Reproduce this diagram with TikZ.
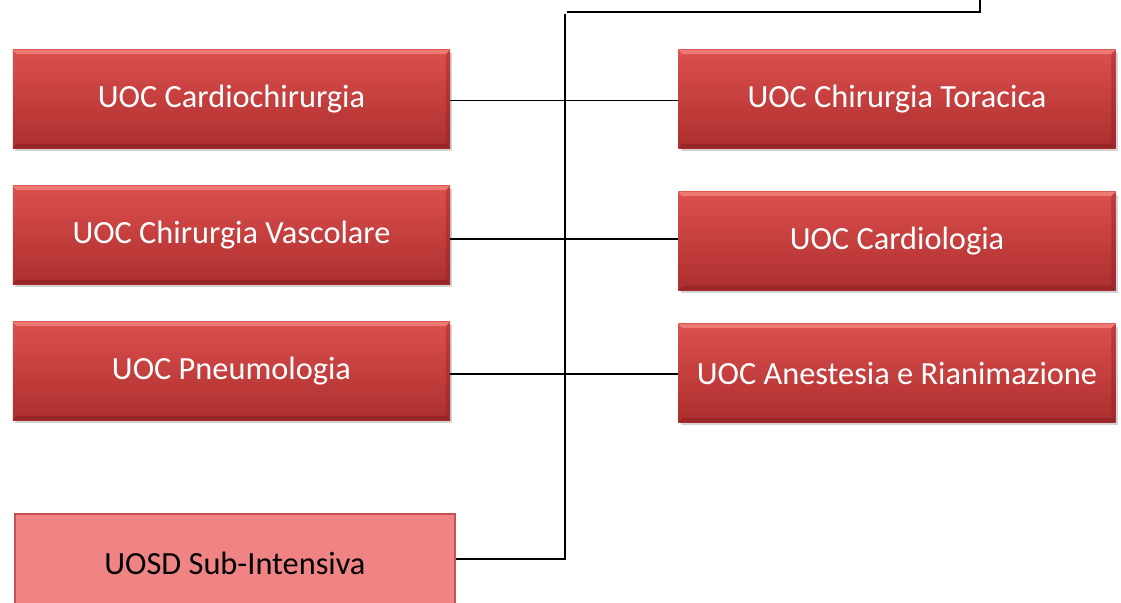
\documentclass[tikz,border=0pt]{standalone}
\usepackage{fontspec}
\setmainfont{Carlito}
\usetikzlibrary{positioning,shadows}

\definecolor{unittop}{RGB}{220,80,78}
\definecolor{unitbot}{RGB}{172,46,46}
\definecolor{unitlight}{RGB}{238,120,116}
\definecolor{unitdark}{RGB}{140,34,34}
\definecolor{subfill}{RGB}{240,132,132}
\definecolor{subline}{RGB}{200,80,80}

\begin{document}
\begin{tikzpicture}[x=0.025cm, y=-0.025cm,
    unit/.style={rectangle, minimum width=10.925cm, minimum height=2.45cm,
        top color=unittop, bottom color=unitbot, text=white,
        font=\fontsize{23}{27}\selectfont,
        drop shadow={opacity=0.35, shadow xshift=1.5pt, shadow yshift=-2pt},
        path picture={
            \fill[unitlight] (path picture bounding box.north west) -- (path picture bounding box.north east)
                -- ([xshift=-3pt,yshift=-3pt]path picture bounding box.north east)
                -- ([xshift=3pt,yshift=-3pt]path picture bounding box.north west) -- cycle;
            \fill[unitdark, opacity=0.6] (path picture bounding box.south west) -- (path picture bounding box.south east)
                -- ([xshift=-3pt,yshift=3pt]path picture bounding box.south east)
                -- ([xshift=3pt,yshift=3pt]path picture bounding box.south west) -- cycle;
            \fill[unitdark, opacity=0.4] (path picture bounding box.north east) -- (path picture bounding box.south east)
                -- ([xshift=-3pt,yshift=3pt]path picture bounding box.south east)
                -- ([xshift=-3pt,yshift=-3pt]path picture bounding box.north east) -- cycle;
        }},
    subunit/.style={rectangle, minimum width=11cm, minimum height=2.45cm,
        fill=subfill, draw=subline, line width=0.8pt, text=black,
        font=\fontsize{23}{27}\selectfont},
    link/.style={draw=black, line width=1.1pt}]
    \useasboundingbox (0,0) rectangle (1121,603);
    \clip (0,0) rectangle (1121,603);
    % left column
    \node [unit] (cardiochir) at (231.5,99) {UOC Cardiochirurgia};
    \node [unit] (vascolare) at (231.5,235) {UOC Chirurgia Vascolare};
    \node [unit] (pneumo) at (231.5,371) {UOC Pneumologia};
    \node [subunit] (subint) at (235,563) {UOSD Sub-Intensiva};
    % right column
    \node [unit] (toracica) at (897,99) {UOC Chirurgia Toracica};
    \node [unit] (cardio) at (897,241) {UOC Cardiologia};
    \node [unit] (anestesia) at (897,373) {UOC Anestesia e Rianimazione};
    % trunk
    \coordinate (head) at (980,0);
    \coordinate (headleft) at (567,12);
    \coordinate (trunktop) at (565,14);
    \draw [link] (head) |- (headleft);
    \draw [link] (trunktop) |- ([yshift=3pt]subint.east);
    \draw [link] ([yshift=-1pt]cardiochir.east) -- ([yshift=-1pt]cardiochir.east -| toracica.west);
    \draw [link] ([yshift=-3pt]vascolare.east) -- ([yshift=-3pt]vascolare.east -| cardio.west);
    \draw [link] ([yshift=-2pt]pneumo.east) -- ([yshift=-2pt]pneumo.east -| anestesia.west);
\end{tikzpicture}
\end{document}
